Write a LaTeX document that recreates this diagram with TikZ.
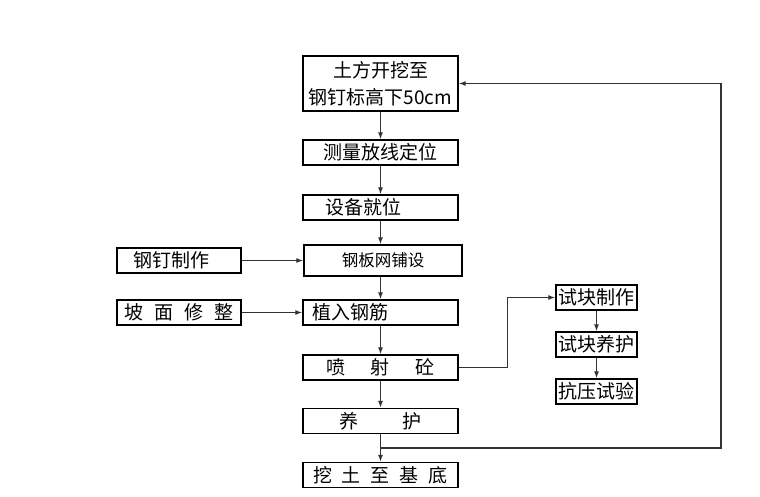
\documentclass[tikz,border=0pt]{standalone}
\usepackage{fontspec}
\setmainfont{Noto Sans CJK SC}
\usetikzlibrary{arrows.meta}
\tikzset{
  box/.style={draw, line width=1.3pt, minimum width=155pt, minimum height=25pt, inner sep=0pt, font=\fontsize{19}{27}\selectfont},
  sidebox/.style={box, minimum width=124pt},
  testbox/.style={box, minimum width=81pt},
  flow/.style={-{Latex[length=7pt,width=5pt]}, line width=1.2pt, draw=black!80},
}
\begin{document}
\begin{tikzpicture}[x=1pt,y=-1pt]
    \useasboundingbox (0,0) rectangle (760,497);
    % Main column
    \node[box, minimum height=55pt, align=center] (top) at (380.5,83.5) {土方开挖至\\钢钉标高下50cm};
    \node[box] (survey) at (380.5,152.5) {测量放线定位};
    \node[box, align=left, text width=145pt, inner xsep=5pt] (equip) at (380.5,207.5) {\hspace*{17pt}设备就位};
    \node[box, minimum width=158pt, minimum height=31pt, font=\fontsize{16.5}{20}\selectfont] (mesh) at (383,260.5) {钢板网铺设};
    \node[box, align=left, text width=145pt, inner xsep=5pt] (rebar) at (380.5,312.5) {\hspace*{4pt}植入钢筋};
    \node[box] (spray) at (380.5,367.5) {喷\hspace{26pt}射\hspace{26pt}砼};
    \node[box] (cure) at (380.5,421) {养\hspace{44pt}护};
    \node[box] (dig) at (380.5,475) {挖\hspace{10pt}土\hspace{10pt}至\hspace{10pt}基\hspace{10pt}底};

    % Side boxes
    \node[sidebox, align=left, text width=114pt, inner xsep=5pt] (nails) at (179,260.5) {\hspace*{11pt}钢钉制作};
    \node[sidebox] (slope) at (179,312.5) {坡\hspace{11pt}面\hspace{11pt}修\hspace{11pt}整};

    % Test specimens
    \node[testbox] (spmake) at (596.5,297.5) {试块制作};
    \node[testbox] (spcure) at (596.5,344.5) {试块养护};
    \node[testbox] (sptest) at (596.5,391.5) {抗压试验};

    % Main flow
    \draw[flow] (top) -- (survey);
    \draw[flow] (survey) -- (equip);
    \draw[flow] (equip.south) -- (equip.south |- mesh.north);
    \draw[flow] (mesh.south -| rebar.north) -- (rebar.north);
    \draw[flow] (rebar) -- (spray);
    \draw[flow] (spray) -- (cure);
    \draw[flow] (cure) -- (dig);

    % Inputs from the left
    \draw[flow] (nails) -- (mesh);
    \draw[flow] (slope) -- (rebar);

    % Specimens
    \draw[flow] (spray.east) -- ++(49,0) |- (spmake.west);
    \draw[flow] (spmake) -- (spcure);
    \draw[flow] (spcure) -- (sptest);

    % Loop back
    \coordinate (loop) at (380.5,448);
    \draw[flow] (loop) -- ++(340.5,0) |- (top.east);
\end{tikzpicture}
\end{document}
